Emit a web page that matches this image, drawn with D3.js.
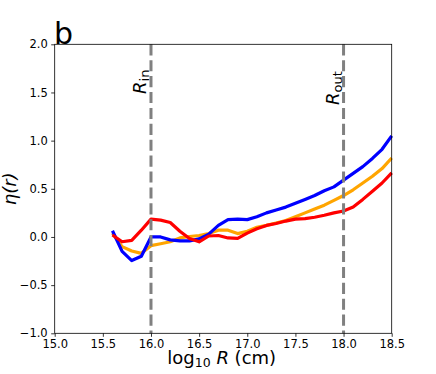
<!DOCTYPE html>
<html>
<head>
<meta charset="utf-8">
<script src="https://cdn.jsdelivr.net/npm/d3@7"></script>
<style>
  body { margin: 0; background: #fff; }
  text { font-family: "DejaVu Sans", sans-serif; }
</style>
</head>
<body>
<svg id="chart"></svg>
<script>
// Set dimensions
const width = 436;
const height = 374;
const margin = { top: 44.3, right: 44.3, bottom: 40.7, left: 54.7 };

// Data: log10 R grid and eta(r) for three curves
const logR = [15.6, 15.7, 15.8, 15.9, 16.0, 16.1, 16.2, 16.3, 16.4, 16.5,
              16.6, 16.7, 16.8, 16.9, 17.0, 17.1, 17.2, 17.3, 17.4, 17.5,
              17.6, 17.7, 17.8, 17.9, 18.0, 18.1, 18.2, 18.3, 18.4, 18.5];
const etaBlue = [0.065, -0.15, -0.245, -0.20, 0.0, 0.0, -0.03, -0.04, -0.04, -0.02,
                 0.03, 0.12, 0.18, 0.185, 0.18, 0.21, 0.25, 0.28, 0.31, 0.35,
                 0.39, 0.43, 0.48, 0.52, 0.59, 0.66, 0.73, 0.815, 0.91, 1.05];
const etaOrange = [0.04, -0.10, -0.145, -0.17, -0.09, -0.07, -0.05, -0.01, 0.005, 0.015,
                   0.035, 0.07, 0.07, 0.035, 0.06, 0.10, 0.12, 0.145, 0.17, 0.21,
                   0.25, 0.29, 0.33, 0.38, 0.43, 0.49, 0.56, 0.63, 0.71, 0.82];
const etaRed = [0.02, -0.05, -0.035, 0.07, 0.185, 0.175, 0.15, 0.06, -0.015, -0.05,
                0.01, 0.015, -0.01, -0.015, 0.04, 0.085, 0.12, 0.14, 0.165, 0.185,
                0.19, 0.205, 0.225, 0.25, 0.27, 0.31, 0.39, 0.475, 0.56, 0.665];
const xTicks = [15.0, 15.5, 16.0, 16.5, 17.0, 17.5, 18.0, 18.5];
const yTicks = [-1.0, -0.5, 0.0, 0.5, 1.0, 1.5, 2.0];
const vLines = [
  { x: 16.0, label: "R", sub: "in", y0: 94 },
  { x: 18.0, label: "R", sub: "out", y0: 105 }
];

const series = [
  { values: etaOrange, color: "#ffa500" },
  { values: etaBlue, color: "#0000ff" },
  { values: etaRed, color: "#ff0000" }
];

const svg = d3.select("#chart")
  .attr("width", width)
  .attr("height", height);

// Scales
const x = d3.scaleLinear()
  .domain([15.0, 18.5])
  .range([margin.left, width - margin.right]);

const y = d3.scaleLinear()
  .domain([-1.0, 2.0])
  .range([height - margin.bottom, margin.top]);

// Curves
const line = d3.line()
  .x((d, i) => x(logR[i]))
  .y(d => y(d));

svg.selectAll("path.curve")
  .data(series)
  .enter()
  .append("path")
  .attr("class", "curve")
  .attr("d", d => line(d.values))
  .attr("fill", "none")
  .attr("stroke", d => d.color)
  .attr("stroke-width", 3.2)
  .attr("stroke-linejoin", "round")
  .attr("stroke-linecap", "butt");

// Dashed reference lines
svg.selectAll("line.vline")
  .data(vLines)
  .enter()
  .append("line")
  .attr("class", "vline")
  .attr("x1", d => x(d.x))
  .attr("x2", d => x(d.x))
  .attr("y1", y(2.0))
  .attr("y2", y(-1.0))
  .attr("stroke", "#808080")
  .attr("stroke-width", 3)
  .attr("stroke-dasharray", "11.1,4.8");

// Labels for reference lines
vLines.forEach(d => {
  const t = svg.append("text")
    .attr("transform", `translate(${x(d.x) - 5},${d.y0}) rotate(-90)`)
    .attr("font-size", 18)
    .attr("fill", "#000");
  t.append("tspan").attr("font-style", "italic").text(d.label);
  t.append("tspan").attr("font-size", 13).attr("dy", 3.5).text(d.sub);
});

// Axes
const xAxis = svg.append("g")
  .attr("transform", `translate(0,${height - margin.bottom})`)
  .call(d3.axisBottom(x).tickValues(xTicks).tickFormat(d3.format(".1f"))
    .tickSize(3.5).tickPadding(3.5));

const yAxis = svg.append("g")
  .attr("transform", `translate(${margin.left},0)`)
  .call(d3.axisLeft(y).tickValues(yTicks).tickFormat(d3.format(".1f"))
    .tickSize(3.5).tickPadding(3.5));

[xAxis, yAxis].forEach(g => {
  g.select(".domain").remove();
  g.selectAll(".tick line").attr("stroke", "#000").attr("stroke-width", 0.8);
  g.selectAll(".tick text")
    .attr("font-family", "DejaVu Sans, sans-serif")
    .attr("font-size", 11.5)
    .attr("fill", "#000");
});

// Frame
svg.append("rect")
  .attr("x", margin.left)
  .attr("y", margin.top)
  .attr("width", width - margin.left - margin.right)
  .attr("height", height - margin.top - margin.bottom)
  .attr("fill", "none")
  .attr("stroke", "#000")
  .attr("stroke-width", 0.8);

// Axis labels
const xLabel = svg.append("text")
  .attr("x", (margin.left + width - margin.right) / 2 - 1.5)
  .attr("y", 363.5)
  .attr("text-anchor", "middle")
  .attr("font-size", 18);
xLabel.append("tspan").text("log");
xLabel.append("tspan").attr("font-size", 12.5).attr("dy", 3.5).text("10");
xLabel.append("tspan").attr("dy", -3.5).text(" ");
xLabel.append("tspan").attr("font-style", "italic").text("R");
xLabel.append("tspan").text(" (cm)");

svg.append("text")
  .attr("transform", `translate(15.5,${(margin.top + height - margin.bottom) / 2}) rotate(-90)`)
  .attr("text-anchor", "middle")
  .attr("font-size", 18)
  .attr("font-style", "italic")
  .text("η(r)");

// Panel letter
svg.append("text")
  .attr("x", 54)
  .attr("y", 44)
  .attr("font-size", 30)
  .text("b");
</script>
</body>
</html>
